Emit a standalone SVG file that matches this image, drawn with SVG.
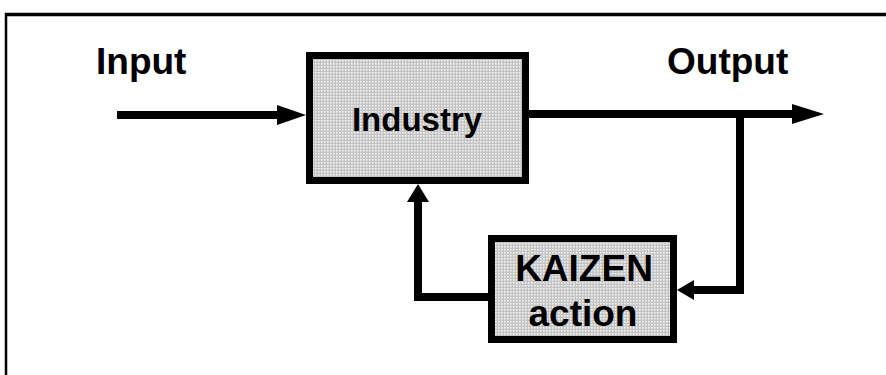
<svg xmlns="http://www.w3.org/2000/svg" width="886" height="375" viewBox="0 0 886 375">
  <style>
    .label { font-family: "Liberation Sans", Arial, sans-serif; font-weight: bold; fill: #000; }
    .box { fill: url(#dots); stroke: #000; stroke-width: 7; }
    .wire { fill: none; stroke: #000; stroke-width: 8; stroke-linejoin: miter; }
    .head { fill: #000; }
  </style>
  <defs>
    <!-- fine dotted grey screen used inside the blocks -->
    <pattern id="dots" width="3" height="3" patternUnits="userSpaceOnUse">
      <rect width="3" height="3" fill="#c4c4c4"/>
      <rect x="0" y="0" width="1.6" height="1.6" fill="#f2f2f2"/>
    </pattern>
  </defs>

  <rect width="886" height="375" fill="#fff"/>

  <!-- frame -->
  <g id="frame" fill="none" stroke="#000">
    <line x1="5" y1="14.5" x2="886" y2="14.5" stroke-width="3.5"/>
    <line x1="6" y1="13" x2="6" y2="375" stroke-width="2.5"/>
  </g>

  <!-- connectors -->
  <g id="connectors">
    <!-- input -->
    <line class="wire" x1="117" y1="115" x2="280" y2="115"/>
    <polygon class="head" points="306,115 277,105 277,125"/>
    <!-- output -->
    <line class="wire" x1="529" y1="114" x2="796" y2="114"/>
    <polygon class="head" points="824,114 792,104 792,124"/>
    <!-- tap to KAIZEN action -->
    <polyline class="wire" points="740,114 740,290 694,290"/>
    <polygon class="head" points="677,290 694,280 694,300"/>
    <!-- feedback to industry -->
    <polyline class="wire" points="488,297 418,297 418,198"/>
    <polygon class="head" points="418,184 407,202 429,202"/>
  </g>

  <!-- labels -->
  <g id="input-label">
    <text class="label" x="96" y="74" font-size="37">Input</text>
  </g>
  <g id="output-label">
    <text class="label" x="667" y="74" font-size="37">Output</text>
  </g>

  <!-- industry block -->
  <g id="industry">
    <rect class="box" x="309.5" y="55.5" width="216" height="125"/>
    <text class="label" x="417" y="131" font-size="33" text-anchor="middle">Industry</text>
  </g>

  <!-- kaizen action block -->
  <g id="kaizen">
    <rect class="box" x="491.5" y="238.5" width="182" height="101"/>
    <text class="label" x="584" y="281" font-size="37" text-anchor="middle">KAIZEN</text>
    <text class="label" x="583" y="326" font-size="37" text-anchor="middle">action</text>
  </g>
</svg>
